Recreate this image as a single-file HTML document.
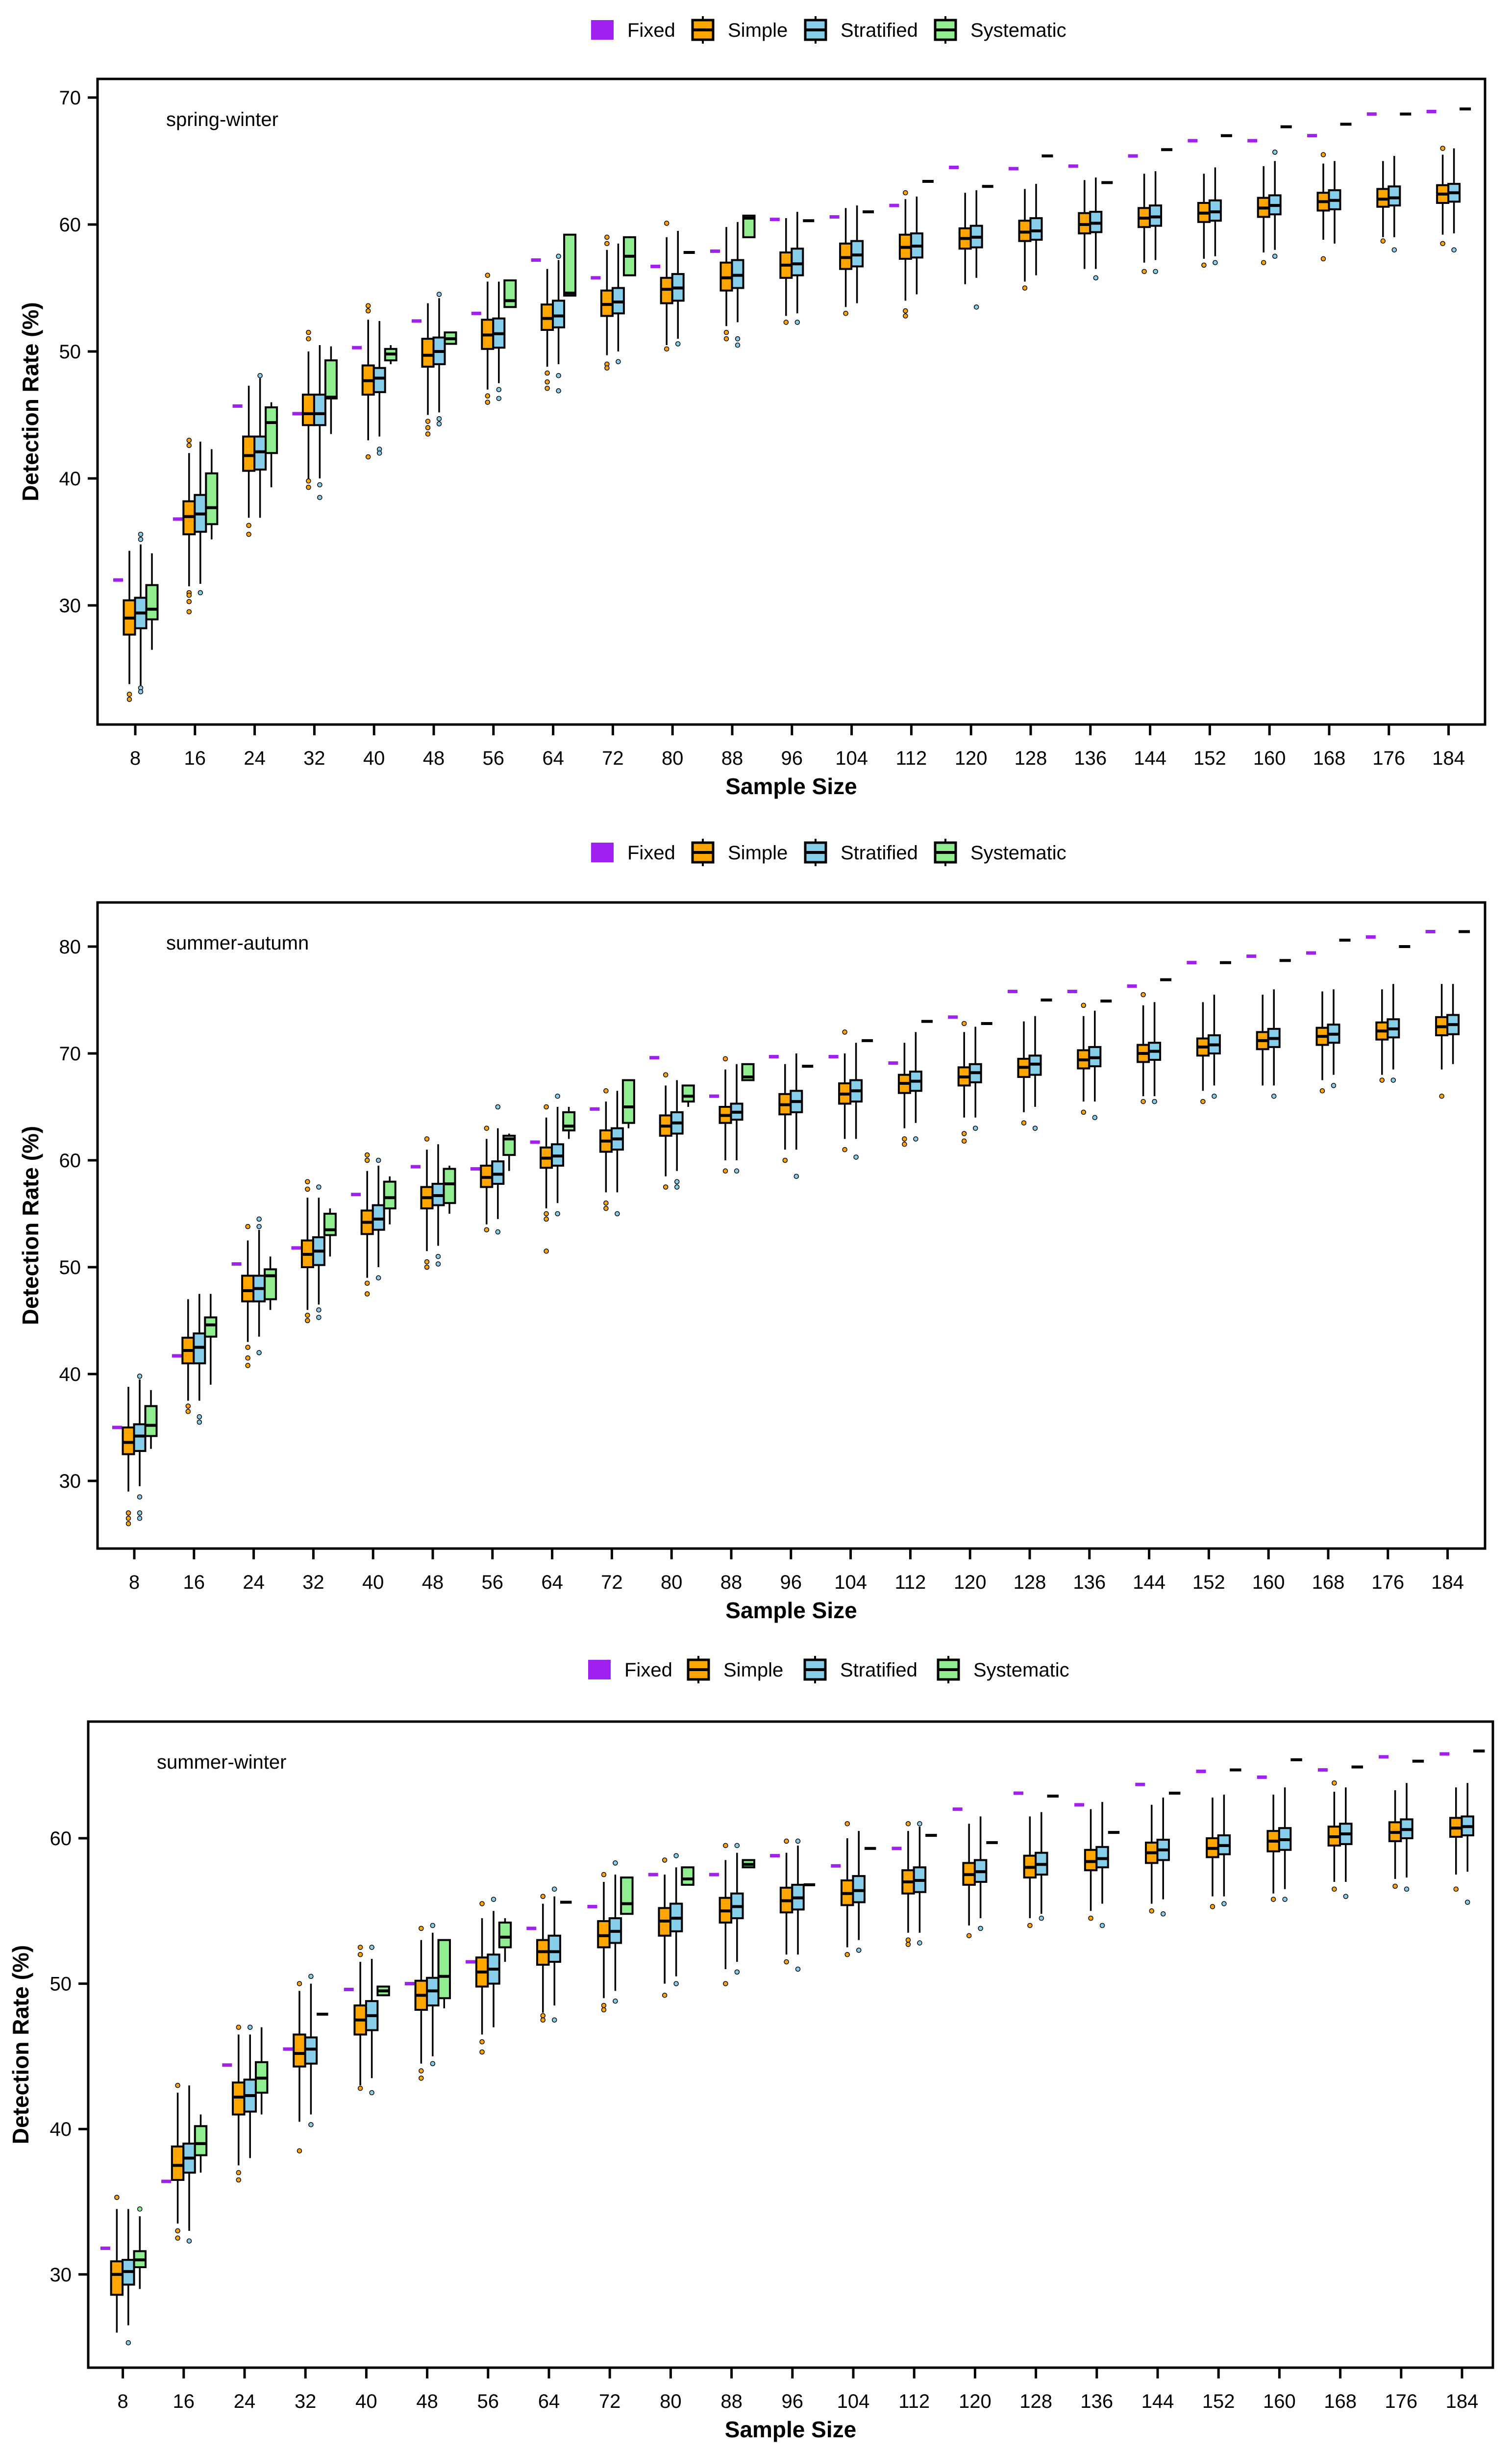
<!DOCTYPE html>
<html><head><meta charset="utf-8"><style>
html,body{margin:0;padding:0;background:#fff;width:3085px;height:5028px;overflow:hidden;position:relative;}
svg{display:block;position:absolute;left:0;top:0;font-family:"Liberation Sans",Arial,sans-serif;}
</style></head><body>
<svg id="chart" width="3085" height="5028" viewBox="0 0 3085 5028" xmlns="http://www.w3.org/2000/svg"></svg>
<script>
const sampleSizes=[8,16,24,32,40,48,56,64,72,80,88,96,104,112,120,128,136,144,152,160,168,176,184];
// Panel 1: spring-winter  — boxes are [lo,q1,med,q3,hi]
const p1Fixed=[32.0,36.8,45.7,45.1,50.3,52.4,53.0,57.2,55.8,56.7,57.9,60.4,60.6,61.5,64.5,64.4,64.6,65.4,66.6,66.6,67.0,68.7,68.9];
const p1Simple=[[23.8,27.7,29,30.4,34.3],[31.5,35.6,37.0,38.2,42.0],[36.9,40.6,41.8,43.3,47.3],[40.0,44.2,45.1,46.6,50.0],[43.0,46.6,47.7,48.9,52.5],[45,48.8,49.7,51.0,53.8],[47,50.2,51.3,52.5,55.5],[48.8,51.7,52.6,53.7,56.5],[49.7,52.8,53.7,54.8,58],[50.5,53.8,54.9,55.8,59],[52,54.8,55.8,57.0,59.8],[52.8,55.8,56.8,57.8,60.5],[53.5,56.5,57.4,58.5,61.3],[54,57.3,58.2,59.2,62],[55.3,58.1,58.9,59.7,62.5],[55.5,58.7,59.4,60.3,62.8],[56.5,59.3,60.0,60.9,63.5],[57,59.8,60.5,61.3,64],[57.3,60.2,60.9,61.7,64],[57.8,60.6,61.3,62.1,64.6],[58.8,61.1,61.8,62.5,64.8],[59,61.4,62.0,62.8,65],[59.2,61.7,62.4,63.1,65.5]];
const p1SimpleOut=[[23,22.6],[43.0,42.6,31,30.8,30.3,29.5],[36.3,35.6],[51.5,51.0,39.8,39.3],[53.6,53.2,41.7],[44.5,44,43.5],[56,46.5,46],[48.3,47.6,47.1],[59,58.5,49,48.7],[60.1,50.2],[51.5,51],[52.3],[53],[53.2,52.8,62.5],[],[55],[],[56.3],[56.8],[57],[65.5,57.3],[58.7],[66,58.5]];
const p1Strat=[[23.7,28.2,29.4,30.6,34.8],[31.7,35.8,37.2,38.7,42.9],[36.9,40.7,42.1,43.3,47.9],[40.0,44.2,45.1,46.6,50.5],[43.3,46.8,47.9,48.7,52.4],[45.2,49.0,50.0,51.1,54.2],[47.5,50.3,51.4,52.6,55.5],[49.0,51.9,52.8,54.0,57.2],[50,53.0,53.9,55.0,58.5],[51,54.0,55.0,56.1,59.5],[52.3,55.0,56.0,57.2,60.2],[53,56.0,56.9,58.1,61],[53.8,56.7,57.6,58.7,61.5],[54.5,57.4,58.3,59.3,62.2],[55.8,58.2,59.0,59.9,62.7],[56,58.8,59.5,60.5,63.2],[56.5,59.4,60.1,61.0,63.7],[57.2,59.9,60.6,61.5,64.2],[57.5,60.3,61.0,61.9,64.5],[58,60.8,61.5,62.3,65],[58.5,61.2,61.9,62.7,65],[59,61.5,62.1,63.0,65.4],[59.3,61.8,62.5,63.2,66]];
const p1StratOut=[[35.2,35.6,23.5,23.2],[31],[48.1],[39.5,38.5],[42.3,42.0],[54.5,44.7,44.3],[47,46.3],[57.5,48.1,46.9],[49.2],[50.6],[51,50.5],[52.3],[],[],[53.5],[],[55.8],[56.3],[57],[65.7,57.5],[],[58],[58]];
const p1Syst=[[26.5,28.9,29.7,31.6,34.1],[35.2,36.4,37.7,40.4,42.3],[39.3,42.0,44.4,45.6,46.0],[43.5,46.3,46.4,49.3,50.4],[49,49.3,49.8,50.2,50.5],[50.6,50.6,51.0,51.5,51.5],[53.5,53.5,54.0,55.6,55.6],[54.4,54.4,54.6,59.2,59.2],[56.0,56.0,57.5,59.0,59.0],[57.8,57.8,57.8,57.8,57.8],[59.0,59.0,60.5,60.7,60.7],[60.3,60.3,60.3,60.3,60.3],[61.0,61.0,61.0,61.0,61.0],[63.4,63.4,63.4,63.4,63.4],[63.0,63.0,63.0,63.0,63.0],[65.4,65.4,65.4,65.4,65.4],[63.3,63.3,63.3,63.3,63.3],[65.9,65.9,65.9,65.9,65.9],[67.0,67.0,67.0,67.0,67.0],[67.7,67.7,67.7,67.7,67.7],[67.9,67.9,67.9,67.9,67.9],[68.7,68.7,68.7,68.7,68.7],[69.1,69.1,69.1,69.1,69.1]];
// Panel 2: summer-autumn
const p2Fixed=[35.0,41.7,50.3,51.8,56.8,59.4,59.2,61.7,64.8,69.6,66.0,69.7,69.7,69.1,73.4,75.8,75.8,76.3,78.5,79.1,79.4,80.9,81.4];
const p2Simple=[[29,32.5,33.6,35.0,38.8],[37.5,41.0,42.2,43.4,47],[43,46.8,47.8,49.2,52.5],[46,50.0,51.2,52.5,56.5],[49,53.1,54.2,55.3,59],[51.5,55.5,56.5,57.5,61],[54,57.5,58.4,59.5,62],[55.5,59.3,60.2,61.2,64],[57,60.8,61.8,62.8,65.5],[58.5,62.3,63.2,64.2,67],[60,63.5,64.2,65.0,68.5],[61,64.3,65.2,66.2,69],[62,65.3,66.2,67.2,70],[63,66.3,67.2,68.0,71],[64,67.0,67.8,68.7,72],[64.5,67.8,68.7,69.5,73],[65.5,68.6,69.4,70.3,73.5],[66,69.2,70.0,70.8,74.5],[66.5,69.8,70.6,71.4,74.8],[67,70.4,71.2,72.0,75.5],[67.5,70.8,71.6,72.4,75.8],[68,71.3,72.1,72.9,76],[68.5,71.7,72.5,73.4,76.5]];
const p2SimpleOut=[[27,26.5,26],[37,36.5],[53.8,42.5,41.5,40.8],[58,57.3,45.5,45],[60.5,60,48.5,47.5],[62,50.5,50],[63,53.5],[65,55,54.5,51.5],[66.5,56,55.5],[68,57.5],[69.5,59],[60],[72,61],[62,61.5],[72.8,62.5,61.8],[63.5],[74.5,64.5],[75.5,65.5],[65.5],[],[66.5],[67.5],[66]];
const p2Strat=[[29.5,32.8,34.2,35.3,39.5],[37.5,41.0,42.5,43.8,47.5],[43.5,46.8,48.0,49.2,53.5],[46.5,50.2,51.5,52.8,56.5],[50,53.5,54.5,55.8,59.5],[52,55.8,56.7,57.8,61.5],[54.5,57.8,58.7,59.9,63],[56,59.5,60.4,61.5,65],[57,61.0,62.0,63.0,66.5],[59,62.5,63.5,64.5,67.5],[60,63.8,64.5,65.3,69],[61,64.5,65.5,66.5,70],[62,65.5,66.5,67.5,71],[63.5,66.5,67.4,68.3,72],[64,67.3,68.2,69.0,72.5],[65,68.0,69.0,69.8,73.5],[65.5,68.8,69.6,70.6,74],[66,69.4,70.2,71.0,74.8],[67,70.0,70.8,71.7,75.5],[67,70.6,71.4,72.3,76],[68,71.0,71.8,72.7,76],[68.5,71.5,72.3,73.2,76.5],[69,71.8,72.7,73.6,76.5]];
const p2StratOut=[[39.8,28.5,27,26.5],[36,35.5],[54.5,53.8,42],[57.5,46,45.3],[60,49],[51,50.3],[65,53.3],[66,55],[55],[58,57.5],[59],[58.5],[60.3],[62],[63],[63],[64],[65.5],[66],[66],[67],[67.5],[]];
const p2Syst=[[33,34.2,35.2,37.0,38.5],[39,43.5,44.6,45.3,47.5],[46,47.0,49.2,49.8,51],[51,53.0,53.5,55.0,55.5],[54,55.5,56.5,58.0,58.5],[55,56.0,57.8,59.2,59.5],[59,60.5,62.0,62.3,62.5],[62,62.8,63.2,64.5,65],[63,63.5,65.0,67.5,67.5],[65,65.5,66.0,67.0,67],[67.5,67.5,67.8,69.0,69.0],[68.8,68.8,68.8,68.8,68.8],[71.2,71.2,71.2,71.2,71.2],[73.0,73.0,73.0,73.0,73.0],[72.8,72.8,72.8,72.8,72.8],[75.0,75.0,75.0,75.0,75.0],[74.9,74.9,74.9,74.9,74.9],[76.9,76.9,76.9,76.9,76.9],[78.5,78.5,78.5,78.5,78.5],[78.7,78.7,78.7,78.7,78.7],[80.6,80.6,80.6,80.6,80.6],[80.0,80.0,80.0,80.0,80.0],[81.4,81.4,81.4,81.4,81.4]];
// Panel 3: summer-winter
const p3Fixed=[31.8,36.4,44.4,45.5,49.6,50.0,51.5,53.8,55.3,57.5,57.5,58.8,58.1,59.3,62.0,63.1,62.3,63.7,64.6,64.2,64.7,65.6,65.8];
const p3Simple=[[26,28.6,30.0,30.9,34.5],[33.5,36.5,37.5,38.8,42.5],[37.5,41.0,42.2,43.2,46.5],[40.5,44.3,45.2,46.5,49.5],[43,46.5,47.5,48.5,51.5],[44.5,48.2,49.2,50.2,53],[46.5,49.8,50.8,51.8,54.5],[48,51.3,52.2,53.0,55.5],[49,52.5,53.3,54.3,57],[50,53.3,54.3,55.2,57.5],[51,54.2,55.0,55.9,58.5],[52,54.9,55.7,56.6,59],[52.5,55.4,56.2,57.1,60],[53.5,56.2,57.0,57.8,60.5],[54,56.8,57.5,58.3,61],[54.5,57.3,58.0,58.8,61.5],[55,57.8,58.4,59.2,62],[55.5,58.3,59.0,59.7,62.3],[56,58.7,59.3,60.0,62.8],[56.2,59.1,59.8,60.5,63],[57,59.5,60.1,60.8,63.2],[57.2,59.8,60.4,61.1,63.3],[57.5,60.1,60.7,61.4,63.5]];
const p3SimpleOut=[[35.3],[43,33,32.5],[47,37,36.5],[50,38.5],[52.5,52,42.8],[53.8,44,43.5],[55.5,46,45.3],[56,47.8,47.5],[57.5,48.5,48.2],[58.5,49.2],[59.5,50],[59.8,51.5],[61,52],[61,53,52.7],[53.3],[54],[54.5],[55],[55.3],[55.8],[63.8,56.5],[56.7],[56.5]];
const p3Strat=[[26.5,29.3,30.2,31.0,34.5],[33,37.0,38.0,39.0,43],[38,41.2,42.3,43.4,46.5],[41,44.5,45.5,46.3,50],[43.5,46.8,47.8,48.8,51.7],[45,48.5,49.5,50.4,53.5],[47,50.0,51.0,52.0,55],[48.5,51.5,52.2,53.3,56],[49.5,52.8,53.6,54.5,57.5],[50.5,53.6,54.5,55.5,58],[51.5,54.5,55.3,56.2,59],[52,55.1,55.9,56.8,59.5],[53,55.6,56.4,57.4,60.5],[53.5,56.3,57.1,58.0,60.8],[54.5,57.0,57.7,58.5,61.5],[54.8,57.5,58.2,59.0,61.8],[55.5,58.0,58.6,59.4,62.5],[55.8,58.5,59.2,59.9,62.8],[56,58.9,59.5,60.2,63],[56.5,59.2,59.9,60.7,63.5],[57,59.6,60.3,61.0,63.5],[57.3,60.0,60.6,61.3,63.8],[57.7,60.2,60.8,61.5,63.8]];
const p3StratOut=[[25.3],[32.3],[47],[50.5,40.3],[52.5,42.5],[54,44.5],[55.8],[56.5,47.5],[58.3,48.8],[58.8,50],[59.5,50.8],[59.8,51],[52.3],[61,52.8],[53.8],[54.5],[54],[54.8],[55.5],[55.8],[56],[56.5],[55.6]];
const p3Syst=[[29,30.5,31.0,31.6,34],[37,38.2,39.0,40.2,41],[41,42.5,43.5,44.6,47],[47.9,47.9,47.9,47.9,47.9],[49.2,49.2,49.5,49.8,49.8],[48.3,49.0,50.5,53.0,53],[51.5,52.5,53.2,54.2,54.5],[55.6,55.6,55.6,55.6,55.6],[54.8,54.8,55.5,57.3,57.3],[56.8,56.8,57.2,58.0,58.0],[58.0,58.0,58.2,58.5,58.5],[56.8,56.8,56.8,56.8,56.8],[59.3,59.3,59.3,59.3,59.3],[60.2,60.2,60.2,60.2,60.2],[59.7,59.7,59.7,59.7,59.7],[62.9,62.9,62.9,62.9,62.9],[60.4,60.4,60.4,60.4,60.4],[63.1,63.1,63.1,63.1,63.1],[64.7,64.7,64.7,64.7,64.7],[65.4,65.4,65.4,65.4,65.4],[64.9,64.9,64.9,64.9,64.9],[65.3,65.3,65.3,65.3,65.3],[66.0,66.0,66.0,66.0,66.0]];
const p3SystOut=[[34.5],[],[],[],[],[],[],[],[],[],[],[],[],[],[],[],[],[],[],[],[],[],[]];
const p1YTicks=[30,40,50,60,70];
const p2YTicks=[30,40,50,60,70,80];
const p3YTicks=[30,40,50,60];

const NS='http://www.w3.org/2000/svg';
const svg=document.getElementById('chart');
const COL={fixed:'#A020F0',simple:'#FFA500',strat:'#87CEEB',syst:'#90EE90'};
function mk(tag,attrs,parent){const e=document.createElementNS(NS,tag);for(const k in attrs)e.setAttribute(k,attrs[k]);(parent||svg).appendChild(e);return e;}

function drawLegend(g,cy,xs){
  const items=[['Fixed',COL.fixed],['Simple',COL.simple],['Stratified',COL.strat],['Systematic',COL.syst]];
  items.forEach((it,i)=>{
    const x=xs[i];
    const lg=mk('g',{},g);
    
    
    if(i===0){mk('rect',{x:x,y:cy-20,width:46,height:40,fill:it[1]},lg);}
    else{
      mk('line',{x1:x+23,x2:x+23,y1:cy-28,y2:cy+28,stroke:'#000','stroke-width':4},lg);
      mk('rect',{x:x+2,y:cy-20,width:42,height:40,fill:it[1],stroke:'#000','stroke-width':5},lg);
      mk('line',{x1:x+2,x2:x+44,y1:cy,y2:cy,stroke:'#000','stroke-width':6},lg);
    }
    const t=mk('text',{x:x+74,y:cy+14,'font-size':40,fill:'#000'},lg);t.textContent=it[0];
  });
}

function drawPanel(cfg){
  const g=mk('g',{});
  
  
  const yS=v=>cfg.y0+(cfg.v0-v)*cfg.ppu;
  const xS=i=>cfg.x0+i*cfg.step;
  const k=cfg.step/121.8;
  drawLegend(g,cfg.legY,cfg.legX);
  const fr=mk('rect',{x:cfg.left,y:cfg.top,width:cfg.right-cfg.left,height:cfg.bottom-cfg.top,fill:'none',stroke:'#000','stroke-width':5},g);
  
  
  const lab=mk('text',{x:cfg.left+140,y:cfg.top+96,'font-size':40},g);
  
  
  lab.textContent=cfg.name;
  cfg.yTicks.forEach(v=>{
    const y=yS(v);
    mk('line',{x1:cfg.left-20,x2:cfg.left,y1:y,y2:y,stroke:'#000','stroke-width':5},g);
    const t=mk('text',{x:cfg.left-34,y:y+14,'font-size':40,'text-anchor':'end'},g);
    
    
    t.textContent=v;
  });
  sampleSizes.forEach((s,i)=>{
    const x=xS(i);
    mk('line',{x1:x,x2:x,y1:cfg.bottom,y2:cfg.bottom+22,stroke:'#000','stroke-width':5},g);
    const t=mk('text',{x:x,y:cfg.bottom+82,'font-size':40,'text-anchor':'middle'},g);
    
    
    t.textContent=s;
  });
  const xt=mk('text',{x:(cfg.left+cfg.right)/2,y:cfg.bottom+142,'font-size':46,'font-weight':'bold','text-anchor':'middle'},g);
  
  
  xt.textContent='Sample Size';
  const ym=(cfg.top+cfg.bottom)/2;
  const yt=mk('text',{x:cfg.ylabX,y:ym,'font-size':46,'font-weight':'bold','text-anchor':'middle',transform:`rotate(-90 ${cfg.ylabX} ${ym})`},g);
  
  
  yt.textContent='Detection Rate (%)';
  const bw=23*k;
  function box(b,out,cx,fill,nm){
    const bg=mk('g',{},g);
    
    
    mk('line',{x1:cx,x2:cx,y1:yS(b[4]),y2:yS(b[0]),stroke:'#000','stroke-width':3.5},bg);
    const y1=yS(b[3]),y2=yS(b[1]);
    mk('rect',{x:cx-bw/2,y:y1,width:bw,height:Math.max(0,y2-y1),fill:fill,stroke:'#000','stroke-width':4},bg);
    mk('line',{x1:cx-bw/2,x2:cx+bw/2,y1:yS(b[2]),y2:yS(b[2]),stroke:'#000','stroke-width':6},bg);
    (out||[]).forEach(o=>{
      mk('circle',{cx:cx,cy:yS(o),r:4.5,fill:fill,stroke:'#000','stroke-width':1.5},bg);
    });
  }
  sampleSizes.forEach((s,i)=>{
    const x=xS(i);
    const f=mk('rect',{x:x-35*k-10,y:yS(cfg.fixed[i])-3.5,width:20,height:7,fill:COL.fixed},g);
    
    
    box(cfg.simple[i],cfg.simpleOut[i],x-12*k,COL.simple,'simple-box-'+s);
    box(cfg.strat[i],cfg.stratOut[i],x+11*k,COL.strat,'stratified-box-'+s);
    box(cfg.syst[i],cfg.systOut?cfg.systOut[i]:[],x+34*k,COL.syst,'systematic-box-'+s);
  });
}

drawPanel({name:'spring-winter',left:199,right:3030,top:161,bottom:1478,y0:199,v0:70,ppu:25.9,x0:276,step:121.8,
  yTicks:p1YTicks,legY:61,legX:[1206,1411,1641,1906],ylabX:78,
  fixed:p1Fixed,simple:p1Simple,simpleOut:p1SimpleOut,strat:p1Strat,stratOut:p1StratOut,syst:p1Syst});
drawPanel({name:'summer-autumn',left:199,right:3030,top:1841,bottom:3159,y0:1931,v0:80,ppu:21.8,x0:274,step:121.8,
  yTicks:p2YTicks,legY:1739,legX:[1206,1411,1641,1906],ylabX:78,
  fixed:p2Fixed,simple:p2Simple,simpleOut:p2SimpleOut,strat:p2Strat,stratOut:p2StratOut,syst:p2Syst});
drawPanel({name:'summer-winter',left:180,right:3046,top:3512,bottom:4830,y0:3750,v0:60,ppu:29.66,x0:250.6,step:124.2,
  yTicks:p3YTicks,legY:3406,legX:[1200,1402,1640,1912],ylabX:58,
  fixed:p3Fixed,simple:p3Simple,simpleOut:p3SimpleOut,strat:p3Strat,stratOut:p3StratOut,syst:p3Syst,systOut:p3SystOut});
</script>
</body></html>
